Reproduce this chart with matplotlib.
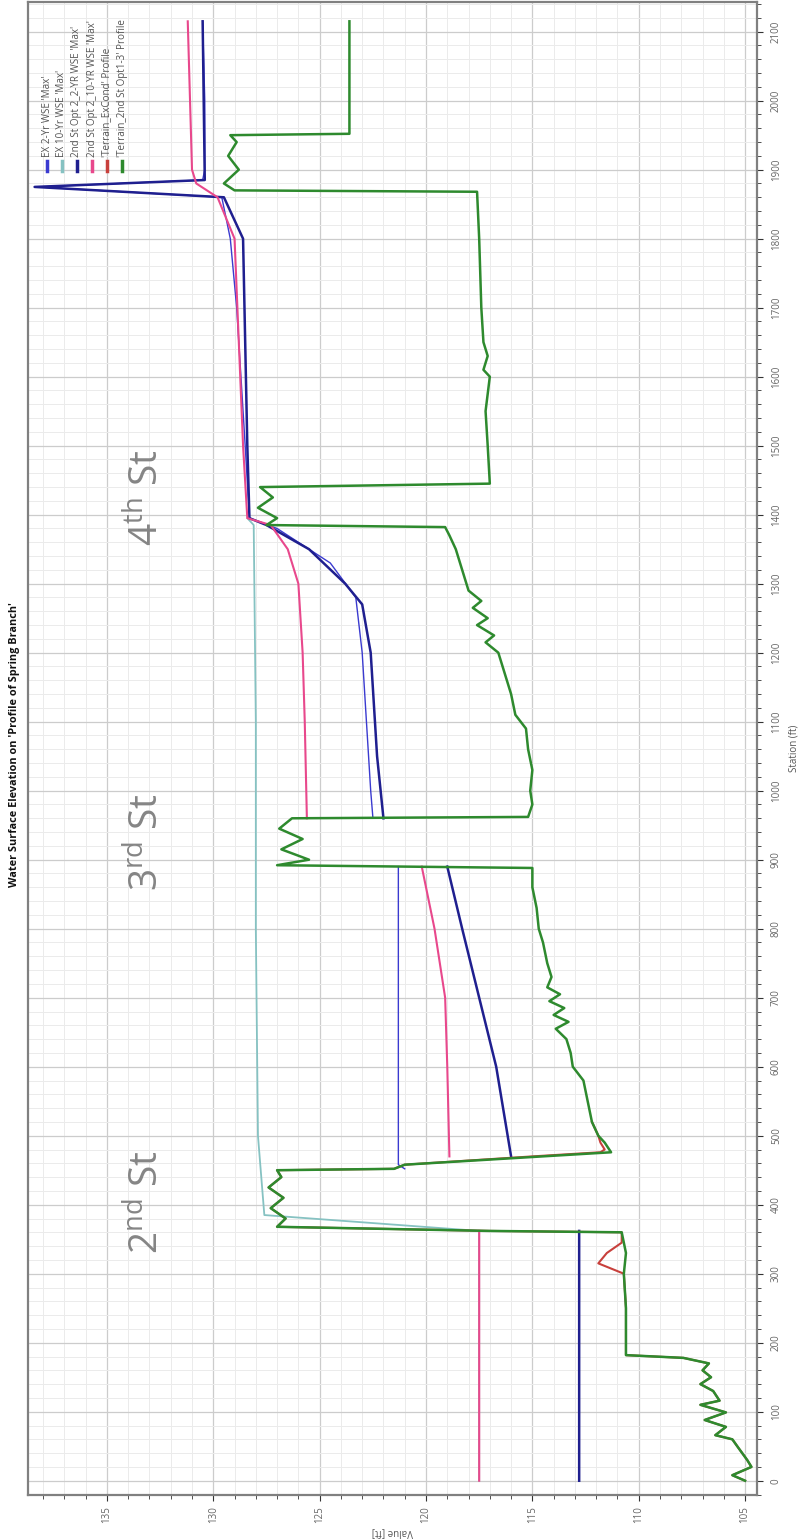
import matplotlib
matplotlib.use("Agg")
import matplotlib.pyplot as plt
from matplotlib.ticker import MultipleLocator
import numpy as np

plt.rcParams['font.family'] = ['Open Sans', 'DejaVu Sans']
plt.rcParams['mathtext.fontset'] = 'custom'
plt.rcParams['mathtext.rm'] = 'Open Sans'

TITLE = "Water Surface Elevation on 'Profile of Spring Branch'"
X_LABEL = "Station (ft)"
Y_LABEL = "Value [ft]"

# ---- profile data (station ft, elevation ft); NaN breaks a line at a structure ----
ex2_sta = [0, 362, np.nan, 452, 458, 890, np.nan, 962, 1000, 1100, 1200, 1280, 1330, 1380, 1395,
           1500, 1600, 1700, 1800, 1860, 1875, 1885, 1900, 2000, 2115]
ex2_val = [112.8, 112.8, np.nan, 121.0, 121.3, 121.3, np.nan, 122.5, 122.6, 122.8, 123.0, 123.3,
           124.5, 127.0, 128.3, 128.5, 128.7, 128.9, 129.2, 129.6, 138.3, 130.5, 130.4, 130.4, 130.5]

ex10_sta = [0, 362, 385, 500, 800, 1100, 1385, 1395]
ex10_val = [117.5, 117.5, 127.6, 127.9, 128.0, 128.0, 128.1, 128.4]

opt2_sta = [0, 362, np.nan, 470, 600, 700, 800, 890, np.nan, 960, 1050, 1200, 1270, 1300, 1350,
            1385, 1395, 1500, 1800, 1860, 1875, 1885, 2115]
opt2_val = [112.8, 112.8, np.nan, 116.0, 116.7, 117.5, 118.3, 119.0, np.nan, 122.0, 122.3, 122.6,
            123.0, 123.8, 125.5, 127.5, 128.3, 128.4, 128.6, 129.5, 138.4, 130.4, 130.5]

opt10_sta = [0, 362, np.nan, 470, 600, 700, 800, 890, np.nan, 960, 1100, 1200, 1300, 1350, 1385,
             1395, 1500, 1800, 1860, 1880, 1900, 2115]
opt10_val = [117.5, 117.5, np.nan, 118.9, 119.0, 119.1, 119.6, 120.2, np.nan, 125.6, 125.7, 125.8,
             126.0, 126.5, 127.3, 128.4, 128.6, 129.0, 129.8, 130.8, 131.0, 131.2]

terr_opt_sta = [0, 8, 20, 30, 47, 60, 66, 78, 88, 99, 110, 116, 130, 140, 150, 160, 170, 178, 182,
                250, 300, 330, 360, 362, 368, 380, 395, 410, 425, 440, 450, 452, 458, 476, 490,
                500, 520, 550, 580, 600, 620, 640, 655, 665, 675, 685, 695, 705, 715, 730, 750,
                780, 800, 830, 860, 888, 892, 900, 915, 930, 945, 960, 962, 980, 1000, 1030,
                1060, 1090, 1110, 1140, 1170, 1200, 1215, 1225, 1240, 1250, 1265, 1275, 1290,
                1310, 1330, 1350, 1370, 1382, 1385, 1395, 1410, 1425, 1440, 1445, 1500, 1550,
                1600, 1610, 1630, 1650, 1700, 1800, 1868, 1870, 1880, 1900, 1920, 1940, 1950,
                1952, 2115]
terr_opt_val = [105.0, 105.6, 104.7, 104.9, 105.3, 105.6, 106.4, 105.9, 106.9, 105.9, 107.1, 106.2,
                106.5, 107.1, 106.6, 107.0, 106.7, 107.9, 110.6, 110.6, 110.7, 110.6, 110.8, 117.0,
                127.0, 126.6, 127.3, 126.7, 127.4, 126.8, 127.0, 121.5, 121.0, 111.3, 111.6,
                111.9, 112.2, 112.4, 112.6, 113.1, 113.2, 113.4, 113.9, 113.3, 114.0, 113.5,
                114.2, 113.7, 114.3, 114.1, 114.3, 114.5, 114.7, 114.8, 115.0, 115.0, 127.0,
                125.5, 126.8, 125.8, 126.9, 126.3, 115.2, 115.0, 115.1, 115.0, 115.2, 115.3,
                115.8, 116.0, 116.3, 116.6, 117.2, 116.8, 117.6, 117.1, 117.8, 117.4, 118.0,
                118.2, 118.4, 118.6, 118.9, 119.1, 127.5, 127.0, 127.9, 127.2, 127.8, 117.0,
                117.1, 117.2, 117.0, 117.3, 117.1, 117.3, 117.4, 117.5, 117.6, 129.0, 129.5,
                128.8, 129.3, 128.9, 129.2, 123.6, 123.6]

terr_ex_sta = [0, 8, 20, 30, 47, 60, 66, 78, 88, 99, 110, 116, 130, 140, 150, 160, 170, 178, 182,
               250, 300, 315, 330, 345, 360, 362, 368, 380, 395, 410, 425, 440, 450, 452, 458,
               470, 476, 480, 490, 500, 520]
terr_ex_val = [105.0, 105.6, 104.7, 104.9, 105.3, 105.6, 106.4, 105.9, 106.9, 105.9, 107.1, 106.2,
               106.5, 107.1, 106.6, 107.0, 106.7, 107.9, 110.6, 110.6, 110.7, 111.9, 111.5, 110.8,
               110.8, 117.0, 127.0, 126.6, 127.3, 126.7, 127.4, 126.8, 127.0, 121.5, 121.0,
               115.0, 111.8, 111.6, 111.8, 111.9, 112.2]

series = [
    ("EX 2-Yr WSE 'Max'", ex2_sta, ex2_val, '#3a3ad0', 1.0),
    ("EX 10-Yr WSE 'Max'", ex10_sta, ex10_val, '#86c2c2', 1.3),
    ("2nd St Opt 2_2-YR WSE 'Max'", opt2_sta, opt2_val, '#1f1f8f', 1.8),
    ("2nd St Opt 2_10-YR WSE 'Max'", opt10_sta, opt10_val, '#e8488c', 1.5),
    ("'Terrain_ExCond' Profile", terr_ex_sta, terr_ex_val, '#c8403c', 1.5),
    ("'Terrain_2nd St Opt1-3' Profile", terr_opt_sta, terr_opt_val, '#2e8a2e', 1.8),
]

streets = [r"2$^{\mathrm{nd}}$ St", r"3$^{\mathrm{rd}}$ St", r"4$^{\mathrm{th}}$ St"]
street_sta = [404, 926, 1424]

fig = plt.figure(figsize=(7.99, 15.40), dpi=100)
ax = fig.add_axes([28 / 799, 1 - 1495 / 1540, (757 - 28) / 799, (1495 - 2) / 1540])

for name, sta, val, col, lw in series:
    ax.plot(val, sta, color=col, lw=lw, solid_joinstyle='round')

# rotated layout: elevation runs right-to-left, station bottom-to-top
ax.set_xlim(138.71, 104.44)
ax.set_ylim(-20.7, 2143)

ax.xaxis.set_major_locator(MultipleLocator(5))
ax.xaxis.set_minor_locator(MultipleLocator(1))
ax.yaxis.set_major_locator(MultipleLocator(100))
ax.yaxis.set_minor_locator(MultipleLocator(20))
ax.yaxis.tick_right()
ax.yaxis.set_label_position('right')

ax.grid(which='major', color='#cccccc', lw=0.9)
ax.grid(which='minor', color='#ebebeb', lw=0.7)
ax.set_axisbelow(True)

for sp in ax.spines.values():
    sp.set_color('#808080')
    sp.set_linewidth(1.6)

ax.tick_params(which='both', direction='out', color='#333333', labelcolor='#666666', labelsize=7)
ax.tick_params(which='major', length=4)
ax.tick_params(which='minor', length=3)
ax.tick_params(axis='y', which='major', pad=6)
ax.tick_params(axis='x', which='major', pad=4)
for lab in ax.get_xticklabels():
    lab.set_rotation(90)
for lab in ax.get_yticklabels():
    lab.set_rotation(90)
    lab.set_va('center')

ax.set_xlabel(Y_LABEL, rotation=180, fontsize=7, color='#555555', labelpad=3)
ax.set_ylabel(X_LABEL, rotation=90, fontsize=7, color='#555555', labelpad=5)

fig.text(15 / 799, 1 - 745 / 1540, TITLE, rotation=90, fontsize=7.8, fontweight='bold',
         ha='center', va='center', color='#111111')

# legend, laid out along the top edge
for i, (name, sta, val, col, lw) in enumerate(series):
    xf = (47 + i * 15) / 799
    fig.add_artist(plt.Line2D([xf, xf], [1 - 171 / 1540, 1 - 161 / 1540], color=col, lw=2.5,
                              transform=fig.transFigure))
    fig.text(xf, 1 - 157 / 1540, name, rotation=90, fontsize=7.1, ha='center', va='bottom',
             color='#555555')

# street crossings
for label, sta in zip(streets, street_sta):
    ax.text(133.1, sta, label, rotation=90, fontsize=28, color='#858585',
            ha='center', va='center')

fig.savefig('out.png', dpi=100)
